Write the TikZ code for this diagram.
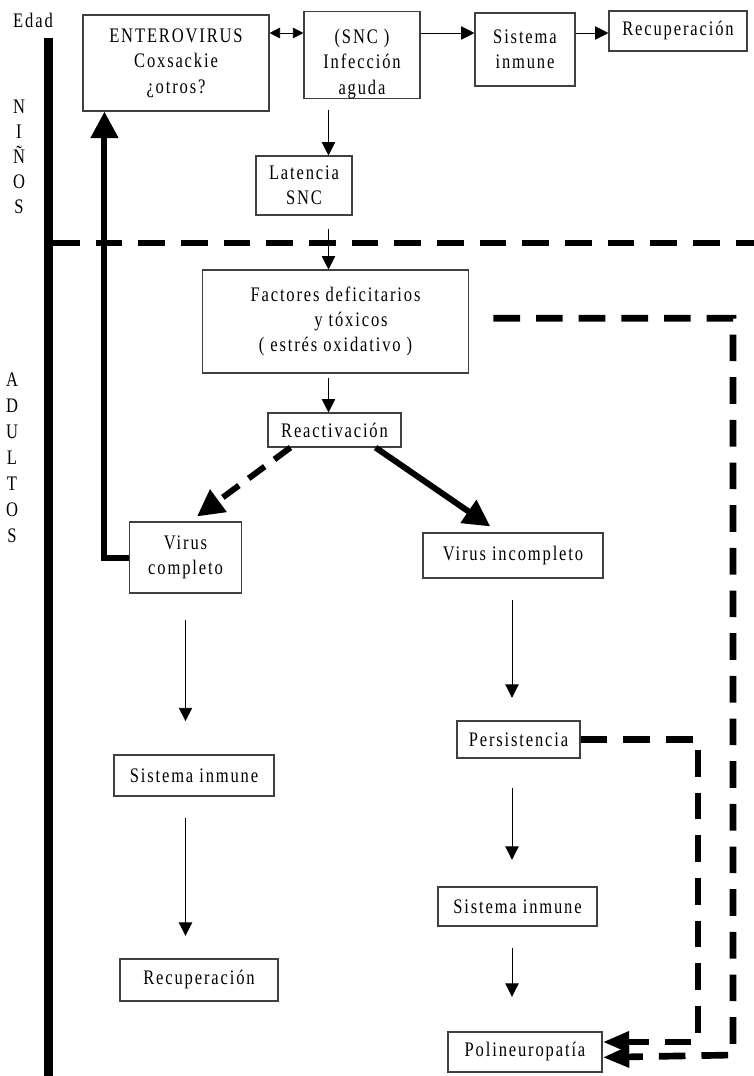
\documentclass[tikz,border=0pt]{standalone}
\usepackage{fontspec}
\setmainfont{Liberation Serif}[FakeStretch=0.8,LetterSpace=9]
\usetikzlibrary{arrows.meta}

\begin{document}
\begin{tikzpicture}[x=0.75pt,y=-0.75pt,
  box/.style={draw=black!75,line width=0.8pt,inner sep=0pt,align=center,
    font=\fontsize{15.5}{19}\selectfont},
  side/.style={inner sep=0pt,align=center},
  arr/.style={line width=0.7pt,-{Triangle[length=10pt,width=10pt]}},
  fat/.style={line width=4.5pt,-{Triangle[length=20pt,width=20pt]}},
  fatdash/.style={line width=4.5pt,dash pattern=on 15pt off 9pt,
    -{Triangle[length=20pt,width=20pt]}},
  rdash/.style={line width=5pt,dash pattern=on 20pt off 12pt,
    -{Triangle[length=20pt,width=15pt]}}]

  \useasboundingbox (0,0) rectangle (754,1076);

  % age axis
  \node[side,font=\fontsize{15.5}{19}\selectfont] (edad) at (33,20) {Edad};
  \node[side,font=\fontsize{15.5}{18.75}\selectfont] (ninos) at (19,157) {N\\I\\Ñ\\O\\S};
  \node[side,font=\fontsize{15.5}{19.5}\selectfont] (adultos) at (12,458) {A\\D\\U\\L\\T\\O\\S};
  \draw[line width=6.75pt] (48.5,38) -- (48.5,1076);
  \draw[line width=4.5pt,dash pattern=on 20pt off 12pt] (53,243) -- (754,243);

  % boxes
  \node[box,minimum width=139.5pt,minimum height=72pt] (entero) at (176,63) {ENTEROVIRUS\\Coxsackie\\¿otros?};
  \node[box,minimum width=87pt,minimum height=61.5pt] (snc) at (362,55) {\rule{0pt}{24pt}(SNC )\\Infección\\aguda};
  \node[box,minimum width=75pt,minimum height=54.75pt] (sisA) at (525,49.5) {Sistema\\inmune};
  \node[box,minimum width=103.5pt,minimum height=30pt] (recA) at (678,31) {Recuperación};
  \node[box,minimum width=72pt,minimum height=44.25pt] (lat) at (304,185.5) {Latencia\\SNC};
  \node[box,minimum width=200pt,minimum height=77.25pt] (fact) at (335.5,321.5) {Factores deficitarios\\\hspace*{1.5em}y tóxicos\\( estrés oxidativo )};
  \node[box,minimum width=99.75pt,minimum height=25.5pt] (react) at (334.5,430) {Reactivación};
  \node[box,minimum width=84pt,minimum height=53.25pt] (vcomp) at (185.5,557.5) {Virus\\completo};
  \node[box,minimum width=135pt,minimum height=33.75pt] (vinc) at (513,555.5) {Virus incompleto};
  \node[box,minimum width=120pt,minimum height=30.75pt] (sisB) at (194,775.5) {Sistema inmune};
  \node[box,minimum width=118.5pt,minimum height=31.5pt] (recB) at (199,980) {Recuperación};
  \node[box,minimum width=92.25pt,minimum height=27.75pt] (pers) at (518.5,739.5) {Persistencia};
  \node[box,minimum width=119.25pt,minimum height=29.25pt] (sisC) at (517.5,906.5) {Sistema inmune};
  \node[box,minimum width=115.5pt,minimum height=30pt] (poli) at (525,1052) {Polineuropatía};

  \coordinate (toprow) at (0,33);
  \coordinate (midcol) at (328.5,0);
  \coordinate (rcol) at (512,0);
  \coordinate (pk) at (698,1042);
  \coordinate (fk) at (733,1055);

  % thin arrows
  \draw[line width=0.7pt,{Triangle[length=8pt,width=8pt]}-{Triangle[length=8pt,width=8pt]}]
    (entero.east |- toprow) -- (snc.west |- toprow);
  \draw[arr] (snc.east |- toprow) -- (sisA.west |- toprow);
  \draw[arr] (sisA.east |- toprow) -- (recA.west |- toprow);
  \draw[arr,shorten <=8pt] (snc.south -| midcol) -- (lat.north -| midcol);
  \draw[arr,shorten <=10pt] (lat.south -| midcol) -- (fact.north -| midcol);
  \draw[arr,shorten <=3pt] (fact.south -| midcol) -- (react.north -| midcol);
  \draw[arr,shorten <=20pt,shorten >=25pt] (vcomp.south) -- (sisB.north -| vcomp.south);
  \draw[arr,shorten <=16pt,shorten >=17pt] (sisB.south -| vcomp.south) -- (recB.north -| vcomp.south);
  \draw[arr,shorten <=16pt,shorten >=17pt] (vinc.south -| rcol) -- (pers.north -| rcol);
  \draw[arr,shorten <=22pt,shorten >=20pt] (pers.south -| rcol) -- (sisC.north -| rcol);
  \draw[arr,shorten <=16pt,shorten >=26pt] (sisC.south -| rcol) -- (poli.north -| rcol);

  % thick arrows
  \draw[fat] (vcomp.west) -| ([xshift=16.5pt]entero.south west);
  \draw[fat] ([xshift=-19.5pt]react.south east) -- ([xshift=-17pt,yshift=4.5pt]vinc.north);
  \draw[fatdash] ([xshift=17.25pt]react.south west) -- ([xshift=8.6pt,yshift=3.75pt]vcomp.north);
  \draw[rdash] (pers.east) -| (pk) -- (poli.east |- pk);
  \draw[rdash,shorten <=18pt] ([yshift=2.5pt]fact.east) -| (fk) -- ([yshift=-4pt]poli.east);
\end{tikzpicture}
\end{document}
